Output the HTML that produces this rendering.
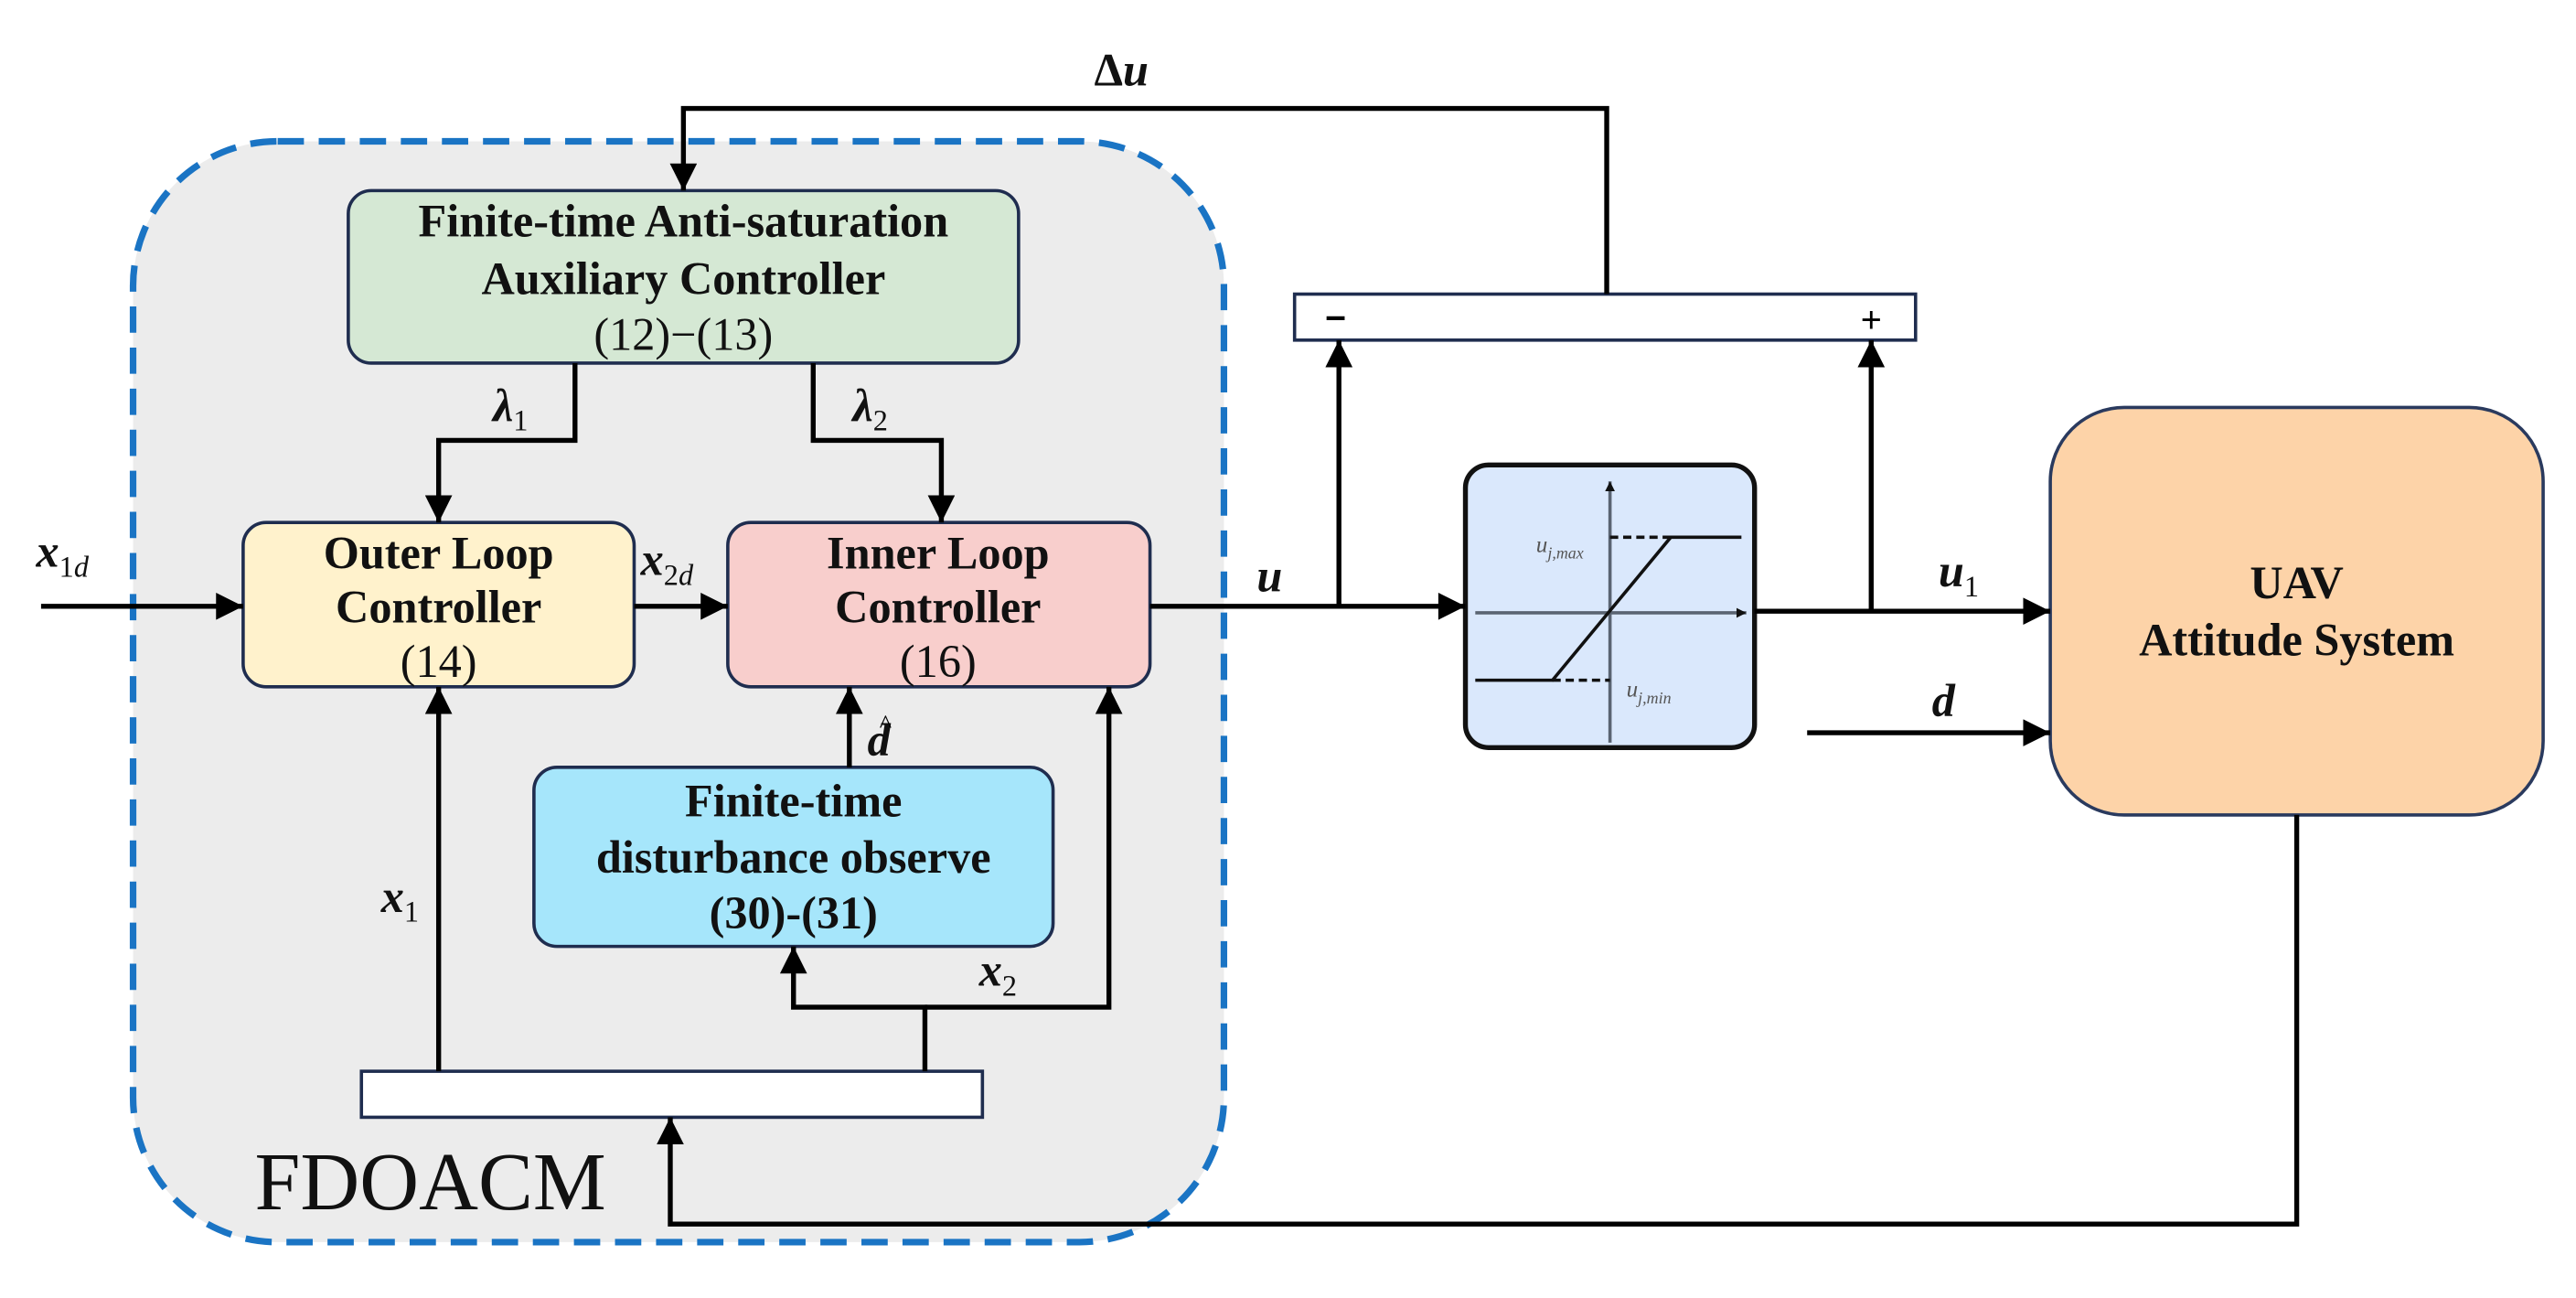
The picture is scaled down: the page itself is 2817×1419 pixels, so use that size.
<!DOCTYPE html>
<html><head><meta charset="utf-8"><style>
html,body{margin:0;padding:0;background:#fff;}
svg{display:block;}
.t{font-family:"Liberation Serif",serif;font-weight:bold;font-size:28px;fill:#111;text-anchor:middle;}
.m{font-family:"Liberation Serif",serif;font-weight:bold;font-style:italic;font-size:28px;fill:#111;}
.s{font-size:18px;font-style:normal;font-weight:normal;}
.l{stroke:#000;stroke-width:3;fill:none;}
</style></head><body>
<svg width="2817" height="1419" viewBox="0 0 1568 790" preserveAspectRatio="none" xmlns="http://www.w3.org/2000/svg">
<defs>
<marker id="a" viewBox="0 0 10 10" refX="10" refY="5" markerWidth="7" markerHeight="5.5" markerUnits="strokeWidth" orient="auto"><path d="M0,0 L10,5 L0,10 z" fill="#000"/></marker>
<marker id="b" viewBox="0 0 10 10" refX="10" refY="5" markerWidth="6" markerHeight="6" markerUnits="userSpaceOnUse" orient="auto"><path d="M0,0 L10,5 L0,10 z" fill="#111"/></marker>
</defs>
<rect x="0" y="0" width="1568" height="790" fill="#fff"/>
<rect x="81" y="86" width="664" height="670" rx="88" fill="#ececec" stroke="#1a74c4" stroke-width="4" stroke-dasharray="16,9"/>
<rect x="212" y="116" width="408" height="105" rx="14" fill="#d5e8d4" stroke="#1f2d4f" stroke-width="2"/>
<text class="t" x="416" y="144">Finite-time Anti-saturation</text>
<text class="t" x="416" y="179">Auxiliary Controller</text>
<text class="t" x="416" y="213" style="font-weight:normal">(12)−(13)</text>
<rect x="148" y="318" width="238" height="100" rx="14" fill="#fff2cc" stroke="#1f2d4f" stroke-width="2"/>
<text class="t" x="267" y="346">Outer Loop</text>
<text class="t" x="267" y="379">Controller</text>
<text class="t" x="267" y="412" style="font-weight:normal">(14)</text>
<rect x="443" y="318" width="257" height="100" rx="14" fill="#f8cecc" stroke="#1f2d4f" stroke-width="2"/>
<text class="t" x="571" y="346">Inner Loop</text>
<text class="t" x="571" y="379">Controller</text>
<text class="t" x="571" y="412" style="font-weight:normal">(16)</text>
<rect x="325" y="467" width="316" height="109" rx="14" fill="#a6e6fb" stroke="#1f2d4f" stroke-width="2"/>
<text class="t" x="483" y="497">Finite-time</text>
<text class="t" x="483" y="531">disturbance observe</text>
<text class="t" x="483" y="565">(30)-(31)</text>
<rect x="220" y="652" width="378" height="28" fill="#fff" stroke="#1f2d4f" stroke-width="2"/>
<text x="155" y="736" style="font-family:'Liberation Serif',serif;font-size:50px;fill:#111">FDOACM</text>
<rect x="788" y="179" width="378" height="28" fill="#fff" stroke="#1f2d4f" stroke-width="2"/>
<text x="813" y="201" style="font-family:'Liberation Sans',sans-serif;font-size:22px;font-weight:bold;text-anchor:middle">−</text>
<text x="1139" y="202" style="font-family:'Liberation Sans',sans-serif;font-size:22px;text-anchor:middle">+</text>
<rect x="892" y="283" width="176" height="172" rx="14" fill="#dae8fc" stroke="#111" stroke-width="3"/>
<line x1="980" y1="452" x2="980" y2="293" stroke="#5a6472" stroke-width="2" marker-end="url(#b)"/>
<line x1="898" y1="373" x2="1063" y2="373" stroke="#5a6472" stroke-width="2" marker-end="url(#b)"/>
<polyline points="898,414 945,414 1017,327 1060,327" fill="none" stroke="#111" stroke-width="2"/>
<line x1="980" y1="327" x2="1017" y2="327" stroke="#111" stroke-width="2" stroke-dasharray="5,3"/>
<line x1="945" y1="414" x2="980" y2="414" stroke="#111" stroke-width="2" stroke-dasharray="5,3"/>
<text x="935" y="336" style="font-family:'Liberation Serif',serif;font-style:italic;font-size:14px;fill:#555">u<tspan font-size="10" dy="4">j,max</tspan></text>
<text x="990" y="424" style="font-family:'Liberation Serif',serif;font-style:italic;font-size:14px;fill:#555">u<tspan font-size="10" dy="4">j,min</tspan></text>
<rect x="1248" y="248" width="300" height="248" rx="45" fill="#fdd3a8" stroke="#2a3a5e" stroke-width="2"/>
<text class="t" x="1398" y="364">UAV</text>
<text class="t" x="1398" y="399">Attitude System</text>
<polyline class="l" points="978,179 978,66 416,66 416,116" marker-end="url(#a)"/>
<polyline class="l" points="350,221 350,268 267,268 267,318" marker-end="url(#a)"/>
<polyline class="l" points="495,221 495,268 573,268 573,318" marker-end="url(#a)"/>
<line class="l" x1="25" y1="369" x2="148" y2="369" marker-end="url(#a)"/>
<line class="l" x1="386" y1="369" x2="443" y2="369" marker-end="url(#a)"/>
<line class="l" x1="700" y1="369" x2="892" y2="369" marker-end="url(#a)"/>
<line class="l" x1="815" y1="369" x2="815" y2="207" marker-end="url(#a)"/>
<line class="l" x1="1068" y1="372" x2="1248" y2="372" marker-end="url(#a)"/>
<line class="l" x1="1139" y1="372" x2="1139" y2="207" marker-end="url(#a)"/>
<line class="l" x1="1100" y1="446" x2="1248" y2="446" marker-end="url(#a)"/>
<polyline class="l" points="1398,496 1398,745 408,745 408,680" marker-end="url(#a)"/>
<line class="l" x1="267" y1="652" x2="267" y2="418" marker-end="url(#a)"/>
<polyline class="l" points="563,652 563,613 483,613 483,576" marker-end="url(#a)"/>
<polyline class="l" points="563,613 675,613 675,418" marker-end="url(#a)"/>
<line class="l" x1="517" y1="467" x2="517" y2="418" marker-end="url(#a)"/>
<text class="m" x="666" y="52" style="font-style:normal">Δ<tspan font-style="italic">u</tspan></text>
<text class="m" x="300" y="256">λ<tspan class="s" dy="6">1</tspan></text>
<text class="m" x="519" y="256">λ<tspan class="s" dy="6">2</tspan></text>
<text class="m" x="22" y="345">x<tspan class="s" dy="6" style="font-style:normal">1<tspan font-style="italic">d</tspan></tspan></text>
<text class="m" x="390" y="350">x<tspan class="s" dy="6" style="font-style:normal">2<tspan font-style="italic">d</tspan></tspan></text>
<text class="m" x="765" y="360">u</text>
<text class="m" x="1180" y="357">u<tspan class="s" dy="6">1</tspan></text>
<text class="m" x="1176" y="436">d</text>
<text class="m" x="232" y="555">x<tspan class="s" dy="6">1</tspan></text>
<text class="m" x="596" y="600">x<tspan class="s" dy="6">2</tspan></text>
<text class="m" x="528" y="460">d</text>
<text x="539" y="446" style="font-family:'Liberation Serif',serif;font-size:16px;text-anchor:middle">^</text>
</svg>
</body></html>
